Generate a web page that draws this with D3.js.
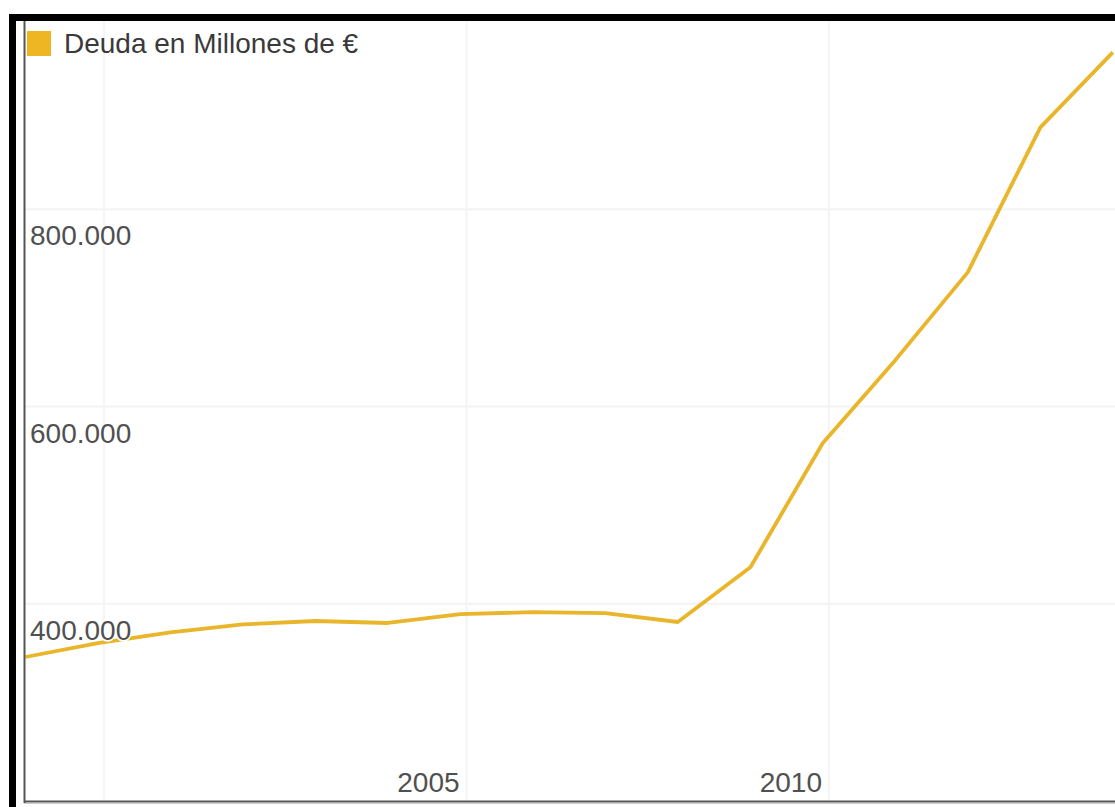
<!DOCTYPE html>
<html>
<head>
<meta charset="utf-8">
<script src="https://cdn.jsdelivr.net/npm/d3@7"></script>
<style>
  html, body { margin: 0; padding: 0; background: #fff; }
  svg { display: block; }
  text { font-family: "Liberation Sans", Arial, sans-serif; }
</style>
</head>
<body>
<svg id="chart" width="1115" height="807"></svg>
<script>
// Spanish public debt, year-end stock, millions of euros
const periods = ["1998-12", "1999-12", "2000-12", "2001-12", "2002-12", "2003-12", "2004-12",
                 "2005-12", "2006-12", "2007-12", "2008-12", "2009-12", "2010-12", "2011-12",
                 "2012-12", "2013-12"];
const debt = [346000, 360000, 371000, 379000, 382500, 380500, 389500,
              391500, 390500, 381500, 437000, 563000, 647000, 736000,
              883000, 959000];
const seriesName = "Deuda en Millones de €";
const yTicks = [400000, 600000, 800000];
const xGridYears = ["2000", "2005", "2010"];
const xLabelYears = ["2005", "2010"];

const svg = d3.select("#chart");
const W = 1115, H = 807;

const parseMonth = d3.timeParse("%Y-%m");
const parseYear = d3.timeParse("%Y");
const data = periods.map((p, i) => ({ date: parseMonth(p), value: debt[i] }));

const esLocale = d3.formatLocale({ decimal: ",", thousands: ".", grouping: [3], currency: ["", " €"] });
const fmt = esLocale.format(",d");

const plot = { left: 25, top: 21, right: W, bottom: 801 };

const x = d3.scaleTime()
  .domain([parseYear("2000"), parseYear("2010")])
  .range([104, 829]);
const y = d3.scaleLinear()
  .domain([200000, 1000000])
  .range([plot.bottom, 12]);

svg.append("rect").attr("width", W).attr("height", H).attr("fill", "#fff");

svg.append("defs").append("clipPath").attr("id", "plotclip")
  .append("rect")
  .attr("x", plot.left).attr("y", plot.top)
  .attr("width", plot.right - plot.left).attr("height", plot.bottom - plot.top);

const g = svg.append("g").attr("clip-path", "url(#plotclip)");

// gridlines
g.selectAll("line.hgrid").data(yTicks).join("line")
  .attr("class", "hgrid")
  .attr("x1", plot.left).attr("x2", plot.right)
  .attr("y1", d => y(d)).attr("y2", d => y(d))
  .attr("stroke", "#f3f3f3").attr("stroke-width", 2);

g.selectAll("line.vgrid").data(xGridYears).join("line")
  .attr("class", "vgrid")
  .attr("x1", d => x(parseYear(d))).attr("x2", d => x(parseYear(d)))
  .attr("y1", plot.top).attr("y2", plot.bottom)
  .attr("stroke", "#f4f4f4").attr("stroke-width", 2);

// series line
const line = d3.line()
  .x(d => x(d.date))
  .y(d => y(d.value));

g.append("path")
  .datum(data)
  .attr("d", line)
  .attr("fill", "none")
  .attr("stroke", "#e8b52b")
  .attr("stroke-width", 3.8)
  .attr("stroke-linejoin", "round");

// y-axis labels, inside the plot just below their gridlines
g.selectAll("text.ylab").data(yTicks).join("text")
  .attr("class", "ylab")
  .attr("x", 30)
  .attr("y", d => y(d) + 36)
  .attr("font-size", 28)
  .attr("fill", "#505050")
  .attr("stroke", "#fff").attr("stroke-width", 3)
  .attr("paint-order", "stroke")
  .text(d => fmt(d));

// x-axis labels, ending just left of their gridlines
g.selectAll("text.xlab").data(xLabelYears).join("text")
  .attr("class", "xlab")
  .attr("x", d => x(parseYear(d)) - 7)
  .attr("y", 792)
  .attr("text-anchor", "end")
  .attr("font-size", 28)
  .attr("fill", "#505050")
  .text(d => d);

// legend
svg.append("rect")
  .attr("x", 27).attr("y", 31).attr("width", 24).attr("height", 25)
  .attr("fill", "#efb623");
svg.append("text")
  .attr("x", 64).attr("y", 53)
  .attr("font-size", 28)
  .attr("fill", "#3a3a3a")
  .text(seriesName);

// frame: inner grey axis lines
svg.append("line")
  .attr("x1", 24.5).attr("x2", 24.5).attr("y1", plot.top).attr("y2", 803)
  .attr("stroke", "#555").attr("stroke-width", 2);
svg.append("line")
  .attr("x1", 24).attr("x2", W).attr("y1", 801.5).attr("y2", 801.5)
  .attr("stroke", "#555").attr("stroke-width", 2);
svg.append("line")
  .attr("x1", 24).attr("x2", W).attr("y1", 803.5).attr("y2", 803.5)
  .attr("stroke", "#ccc").attr("stroke-width", 1);

// outer black border (top and left)
svg.append("rect").attr("x", 9).attr("y", 14).attr("width", W - 9).attr("height", 7).attr("fill", "#000");
svg.append("rect").attr("x", 9).attr("y", 14).attr("width", 7).attr("height", H - 14).attr("fill", "#000");
</script>
</body>
</html>
